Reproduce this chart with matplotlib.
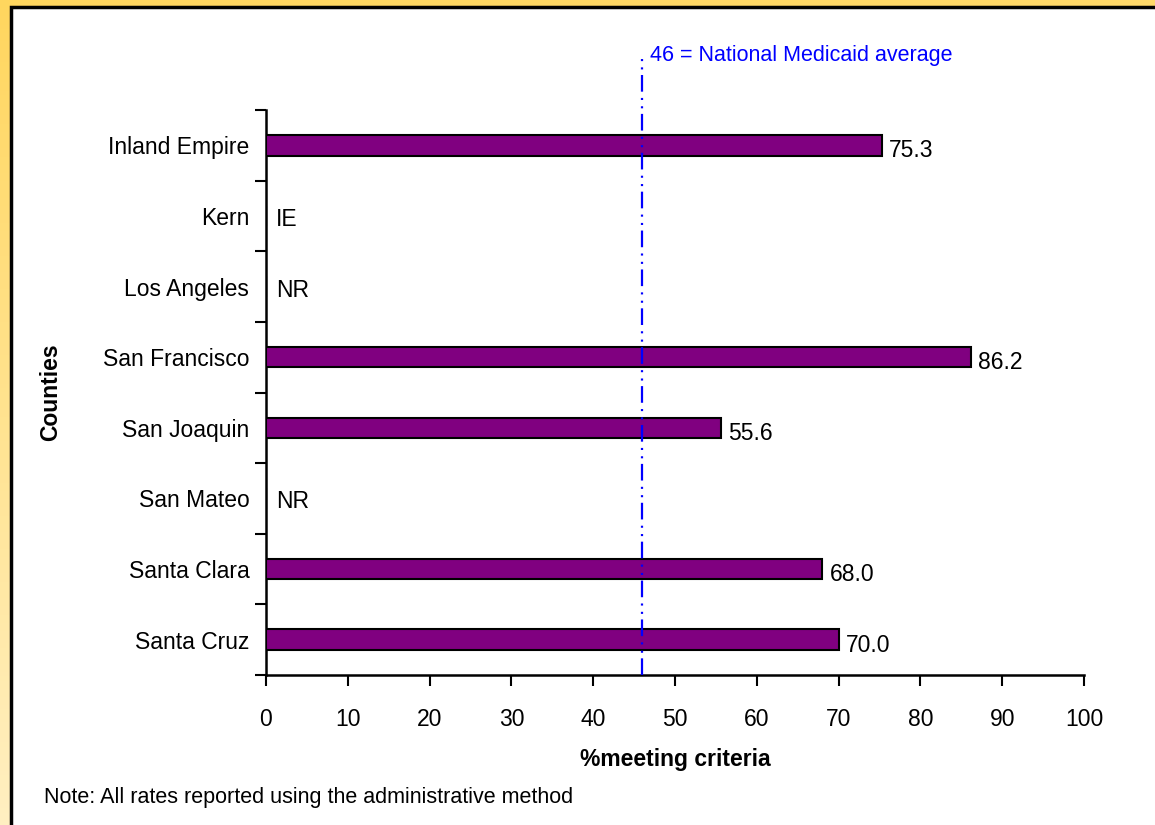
import numpy as np
import matplotlib
matplotlib.use("Agg")
import matplotlib.pyplot as plt
from matplotlib.patches import Rectangle
from matplotlib.transforms import blended_transform_factory

plt.rcParams['font.family'] = ['Liberation Sans', 'DejaVu Sans']
plt.rcParams['lines.scale_dashes'] = False

# Data
counties = ["Inland Empire", "Kern", "Los Angeles", "San Francisco",
            "San Joaquin", "San Mateo", "Santa Clara", "Santa Cruz"]
rates = [75.3, None, None, 86.2, 55.6, None, 68.0, 70.0]
status = ["", "IE", "NR", "", "", "NR", "", ""]
national_avg = 46
x_ticks = [0, 10, 20, 30, 40, 50, 60, 70, 80, 90, 100]

W, H = 1155, 825
fig = plt.figure(figsize=(W / 100, H / 100), dpi=100)

# Warm gradient backdrop behind the white panel
bg = fig.add_axes([0, 0, 1, 1], zorder=-10)
yy, xx = np.mgrid[0:1:200j, 0:1:200j]
top = np.array([1.0, 0.84, 0.37])
bot = np.array([1.0, 0.95, 0.80])
t = np.clip(yy * 0.9 + xx * 0.1, 0, 1)[..., None]
grad = top * (1 - t) + bot * t
bg.imshow(grad, extent=[0, 1, 0, 1], aspect='auto', origin='upper')
bg.set_axis_off()

# White panel with dark frame
panel = Rectangle((11 / W, -0.01), 1.02, 1 - 7 / H + 0.01, transform=fig.transFigure,
                  facecolor='white', edgecolor='black', linewidth=2.5, zorder=-5)
fig.patches.append(panel)

ax = fig.add_axes([266 / W, 1 - 675 / H, (1084 - 266) / W, (675 - 110) / H])
ax.set_facecolor('none')

FS = 16.5

n = len(counties)
ypos = np.arange(n)
vals = [v if v is not None else 0 for v in rates]
ax.barh(ypos, vals, height=0.29, color='#800080', edgecolor='black', linewidth=1.5, zorder=3)

for y, v, s in zip(ypos, rates, status):
    if v is not None:
        ax.text(v + 0.9, y + 0.08, f"{v:.1f}", va='center', ha='left', fontsize=FS, color='black')
    else:
        ax.text(1.2, y + 0.05, s, va='center', ha='left', fontsize=FS, color='black')

ax.set_xlim(0, 100)
ax.set_ylim(n - 0.5, -0.5)
ax.set_xticks(x_ticks)
ax.set_xticklabels([str(v) for v in x_ticks], fontsize=FS)
ax.set_yticks(ypos)
ax.set_yticklabels(counties, fontsize=FS)
ax.set_yticks(np.arange(-0.5, n, 1.0), minor=True)
ax.tick_params(axis='y', which='major', length=0, pad=12)
ax.tick_params(axis='y', which='minor', length=8, width=1.5, direction='out')
ax.tick_params(axis='x', which='major', length=8, width=1.5, direction='out', pad=16)

for side in ['top', 'right']:
    ax.spines[side].set_visible(False)
for side in ['left', 'bottom']:
    ax.spines[side].set_linewidth(1.8)

ax.set_xlabel("%meeting criteria", fontsize=FS, fontweight='bold', labelpad=12)
ax.set_ylabel("Counties", fontsize=FS, fontweight='bold')
ax.yaxis.set_label_coords(-0.249, 0.5)

# National average reference line
tr = blended_transform_factory(ax.transData, ax.transAxes)
ax.plot([national_avg, national_avg], [0, 1.094], transform=tr, color='#0000FF',
        linewidth=1.6, linestyle=(0, (12, 4, 1.5, 4.5, 1.5, 4.5)), clip_on=False, zorder=4)
ax.text(national_avg + 0.9, 1.097, f"{national_avg} = National Medicaid average", transform=tr,
        color='#0000FF', fontsize=15.5, ha='left', va='center')

fig.text(44 / W, 1 - 797 / H, "Note: All rates reported using the administrative method",
         fontsize=15.5, ha='left', va='center')

fig.savefig("out.png", dpi=100)
